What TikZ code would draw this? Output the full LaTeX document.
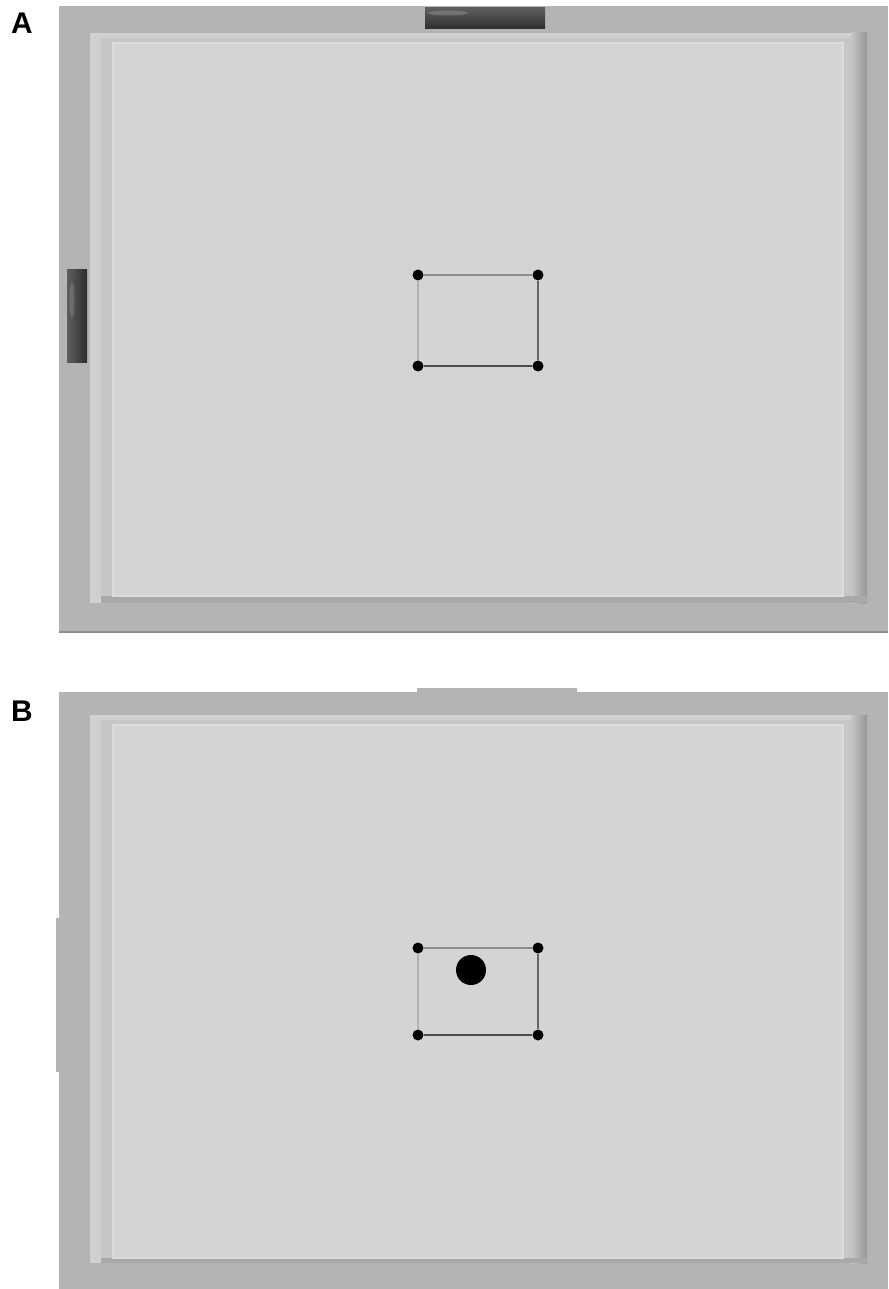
\documentclass[tikz,border=0pt]{standalone}
\usepackage{fontspec}
\setsansfont{Liberation Sans}
\usetikzlibrary{positioning}
\definecolor{cframe}{HTML}{B4B4B4}
\definecolor{cframedark}{HTML}{8E8E8E}
\definecolor{cbevel}{HTML}{C6C6C6}
\definecolor{cbevlight}{HTML}{D0D0D0}
\definecolor{cbevdark}{HTML}{A9A9A9}
\definecolor{cshadow}{HTML}{969696}
\definecolor{cfloor}{HTML}{D4D4D4}
\definecolor{cfloorrim}{HTML}{DCDCDC}
\definecolor{cdoor}{HTML}{2E2E2E}
\definecolor{cdoorlight}{HTML}{5E5E5E}

\tikzset{
  corner/.style={circle, fill=black, inner sep=0pt, minimum size=0.11cm},
  token/.style={circle, fill=black, inner sep=0pt, minimum size=0.30cm},
  panellabel/.style={font=\sffamily\bfseries\fontsize{8.5}{10}\selectfont, inner sep=0pt},
  edgetop/.style={draw=black!45, line width=0.55pt},
  edgeleft/.style={draw=black!30, line width=0.55pt},
  edgeright/.style={draw=black!60, line width=0.65pt},
  edgebottom/.style={draw=black!70, line width=0.6pt}
}

\begin{document}
\begin{tikzpicture}[x=0.01cm, y=-0.01cm]
  \useasboundingbox (0,0) rectangle (888,1289);
  \fill[white] (0,0) rectangle (888,1289);

  % Arena frame, bevel and floor for both panels
  \foreach \t/\b/\bt/\bb/\ft/\fb in {6/632/33/603/43/596, 692/1289/715/1263/725/1258}{
    \fill[cframe] (59,\t) rectangle (888,\b);
    \fill[cbevel] (90,\bt) rectangle (867,\bb);
    \fill[cbevlight] (90,\bt) rectangle (101,\bb);
    \fill[cbevlight] (90,\bt) rectangle (867,\bt+5);
    \shade[left color=cbevel, right color=cshadow] (851,\bt) rectangle (867,\bb);
    \fill[cbevdark] (101,\fb) rectangle (867,\bb);
    \fill[cfloor, draw=cfloorrim, line width=0.8pt] (113,\ft) rectangle (843,\fb);
  }
  \draw[cframedark, line width=0.6pt] (59,632) -- (888,632);

  % Panel A: doors open
  \shade[top color=cdoorlight, bottom color=cdoor] (425,8) rectangle (545,29);
  \fill[white, opacity=0.18] (448,13) ellipse (20 and 2.5);
  \shade[left color=cdoorlight, right color=cdoor] (67,270) rectangle (87,363);
  \fill[white, opacity=0.15] (72,300) ellipse (2.5 and 18);

  % Panel B: doors closed
  \fill[cframe] (417,688) rectangle (577,693);
  \fill[cframe] (56,918) rectangle (60,1072);

  % Panel labels
  \node[panellabel] (labA) at (22,23) {A};
  \node[panellabel] (labB) at (22,711) {B};

  % Marked square, panel A
  \node[corner] (a1) at (418,275) {};
  \node[corner] (a2) at (538,275) {};
  \node[corner] (a3) at (538,366) {};
  \node[corner] (a4) at (418,366) {};
  \draw[edgetop] (a1) -- (a2);
  \draw[edgeright] (a2) -- (a3);
  \draw[edgebottom] (a3) -- (a4);
  \draw[edgeleft] (a4) -- (a1);

  % Marked square with object, panel B
  \node[corner] (b1) at (418,948) {};
  \node[corner] (b2) at (538,948) {};
  \node[corner] (b3) at (538,1035) {};
  \node[corner] (b4) at (418,1035) {};
  \draw[edgetop] (b1) -- (b2);
  \draw[edgeright] (b2) -- (b3);
  \draw[edgebottom] (b3) -- (b4);
  \draw[edgeleft] (b4) -- (b1);
  \node[token] (obj) at (471,970) {};
\end{tikzpicture}
\end{document}
